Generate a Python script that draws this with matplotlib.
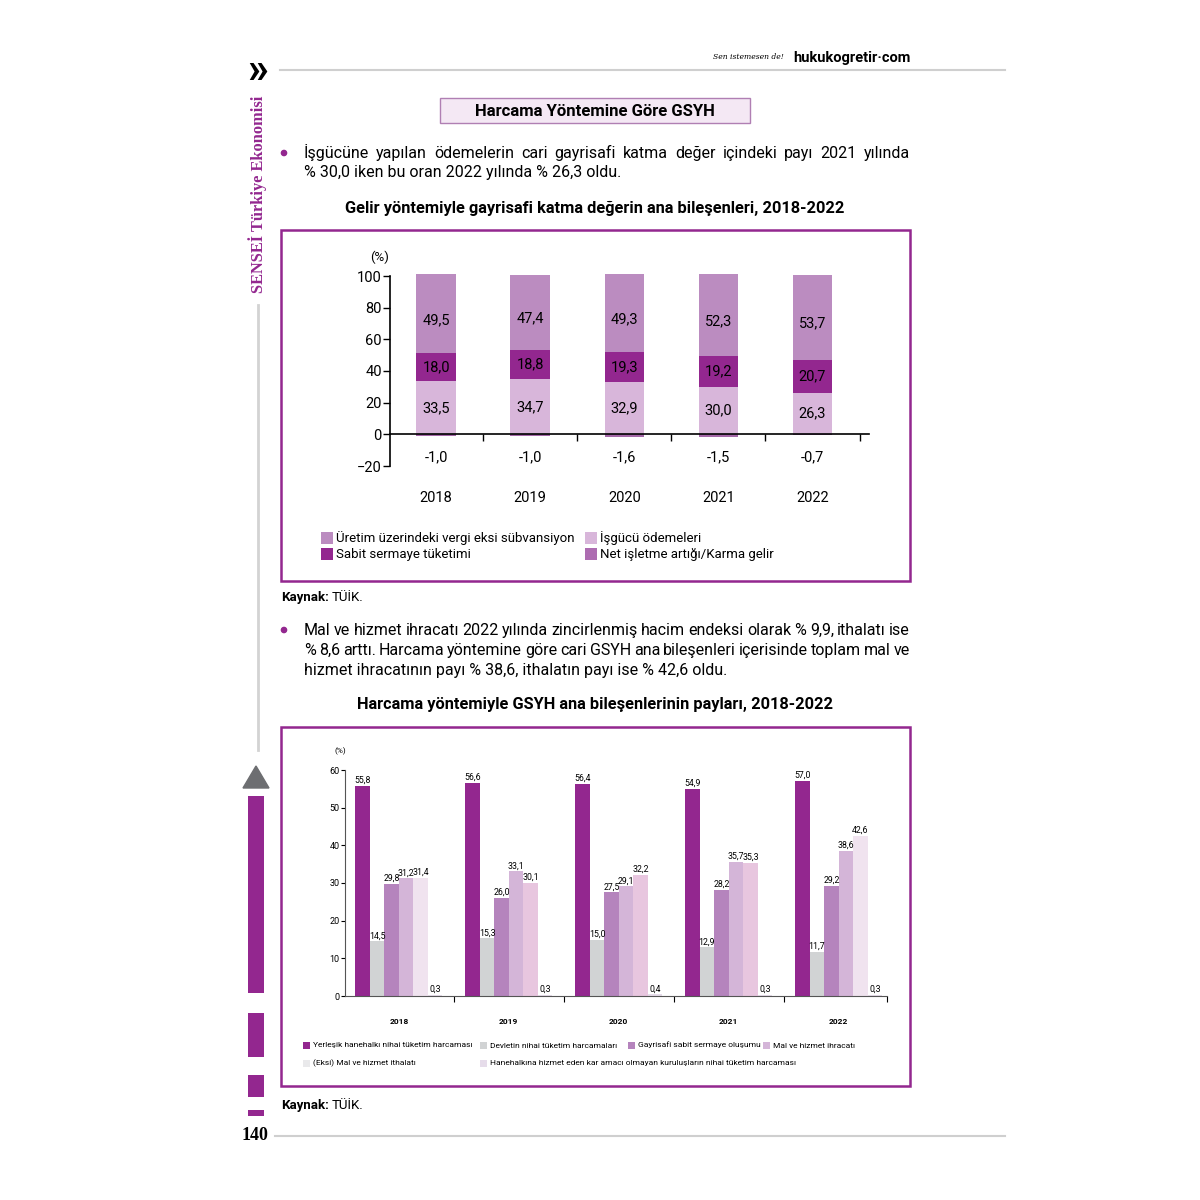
"""Recreate the 'Harcama Yöntemine Göre GSYH' book page with its two bar charts."""

import matplotlib

matplotlib.use("Agg")
import matplotlib.pyplot as plt  # noqa: E402
import numpy as np  # noqa: E402
from matplotlib.patches import Circle, Polygon, Rectangle  # noqa: E402

plt.rcParams["font.family"] = ["Roboto", "DejaVu Sans"]

# --- data: gelir yöntemi (chart 1) -------------------------------------------
YEARS = ["2018", "2019", "2020", "2021", "2022"]
ISGUCU = [33.5, 34.7, 32.9, 30.0, 26.3]
SABIT_SERMAYE = [18.0, 18.8, 19.3, 19.2, 20.7]
NET_ISLETME = [49.5, 47.4, 49.3, 52.3, 53.7]
URETIM_VERGI = [-1.0, -1.0, -1.6, -1.5, -0.7]

# --- data: harcama yöntemi (chart 2) -----------------------------------------
YERLESIK = [55.8, 56.6, 56.4, 54.9, 57.0]
DEVLET = [14.5, 15.3, 15.0, 12.9, 11.7]
GAYRISAFI = [29.8, 26.0, 27.5, 28.2, 29.2]
IHRACAT = [31.2, 33.1, 29.1, 35.7, 38.6]
ITHALAT = [31.4, 30.1, 32.2, 35.3, 42.6]
HANEHALKI = [0.3, 0.3, 0.4, 0.3, 0.3]

LEGEND1 = ["Üretim üzerindeki vergi eksi sübvansiyon", "Sabit sermaye tüketimi",
           "İşgücü ödemeleri", "Net işletme artığı/Karma gelir"]
LEGEND2 = ["Yerleşik hanehalkı nihai tüketim harcaması",
           "Devletin nihai tüketim harcamaları",
           "Gayrisafi sabit sermaye oluşumu", "Mal ve hizmet ihracatı",
           "(Eksi) Mal ve hizmet ithalatı",
           "Hanehalkına hizmet eden kar amacı olmayan kuruluşların nihai tüketim harcaması"]

PARA1 = ["İşgücüne yapılan ödemelerin cari gayrisafi katma değer içindeki payı 2021 yılında",
         "% 30,0 iken bu oran 2022 yılında % 26,3 oldu."]
PARA2 = ["Mal ve hizmet ihracatı 2022 yılında zincirlenmiş hacim endeksi olarak % 9,9, ithalatı ise",
         "% 8,6 arttı. Harcama yöntemine göre cari GSYH ana bileşenleri içerisinde toplam mal ve",
         "hizmet ihracatının payı % 38,6, ithalatın payı ise % 42,6 oldu."]

PURPLE = "#93278f"
W = H = 1200


def fx(x):
    return x / W


def fy(y):
    return 1 - y / H


def box(x0, y0, x1, y1):
    """Axes rectangle from page pixel coordinates (origin top-left)."""
    return [x0 / W, 1 - y1 / H, (x1 - x0) / W, (y1 - y0) / H]


def fmt(v):
    return f"{v:.1f}".replace(".", ",")


def hline(fig, x0, x1, y, color="#cfcfcf", lw=1.5):
    fig.add_artist(plt.Line2D([fx(x0), fx(x1)], [fy(y), fy(y)], color=color, lw=lw))


def rect(fig, x0, y0, x1, y1, **kw):
    fig.add_artist(Rectangle((fx(x0), fy(y1)), fx(x1) - fx(x0), fy(y0) - fy(y1),
                             transform=fig.transFigure, **kw))


def paragraph(fig, lines, x0, x1, y, step, size=11.5):
    """Justified paragraph: every line but the last is spread to full width.

    `y` is the visual middle of the first line; words sit on a shared baseline.
    """
    renderer = fig.canvas.get_renderer()
    for n, line in enumerate(lines):
        yy = fy(y + 5 + n * step)
        if n == len(lines) - 1:
            fig.text(fx(x0), yy, line, fontsize=size, va="baseline")
            continue
        words = line.split(" ")
        texts = [fig.text(0, yy, w, fontsize=size, va="baseline") for w in words]
        widths = [t.get_window_extent(renderer).width for t in texts]
        gap = (x1 - x0 - sum(widths)) / (len(words) - 1)
        pos = x0
        for t, wd in zip(texts, widths):
            t.set_x(fx(pos))
            pos += wd + gap


def kaynak(fig, x, y):
    renderer = fig.canvas.get_renderer()
    t = fig.text(fx(x), fy(y + 4), "Kaynak:", fontsize=9.5, fontweight="bold",
                 va="baseline")
    w = t.get_window_extent(renderer).width
    fig.text(fx(x + w + 3), fy(y + 4), "TÜİK.", fontsize=9.5, va="baseline")


fig = plt.figure(figsize=(12, 12), dpi=100)

# --- page furniture ----------------------------------------------------------
hline(fig, 280, 1005, 70)
fig.text(fx(258), fy(72), "»", fontsize=30, fontweight="bold", ha="center", va="center")
fig.text(fx(748), fy(57), "Sen istemesen de!", fontsize=5.5, style="italic",
         family="DejaVu Serif", ha="center", va="center")
fig.text(fx(911), fy(58), "hukukogretir·com", fontsize=10.5, fontweight="bold",
         ha="right", va="center")

fig.text(fx(258), fy(194), "SENSEİ Türkiye Ekonomisi", rotation=90, color=PURPLE,
         family="Liberation Serif", fontweight="bold", fontsize=11.8, ha="center", va="center")
fig.add_artist(plt.Line2D([fx(258), fx(258)], [fy(305), fy(750)], color="#d3d3d3", lw=2))
fig.add_artist(Polygon([(fx(243), fy(788)), (fx(269), fy(788)), (fx(256), fy(766))],
                       closed=True, transform=fig.transFigure, color="#6d6e71"))
for y0, y1 in [(796, 993), (1013, 1057), (1075, 1097), (1110, 1116)]:
    rect(fig, 248, y0, 264, y1, color=PURPLE, lw=0)
fig.text(fx(255), fy(1136), "140", family="Liberation Serif", fontweight="bold",
         fontsize=13, ha="center", va="center")
hline(fig, 275, 1005, 1136)

rect(fig, 440, 98, 750, 123, facecolor="#f4e8f4", edgecolor="#b07fb3", lw=1)
fig.text(fx(595), fy(111), "Harcama Yöntemine Göre GSYH", fontsize=12,
         fontweight="bold", ha="center", va="center")

for by in (153, 630):
    fig.add_artist(Circle((fx(284), fy(by)), 2.6 / W, transform=fig.transFigure,
                          color=PURPLE))
paragraph(fig, PARA1, 304, 910, 153, 19.5)
paragraph(fig, PARA2, 304, 910, 630, 20)

fig.text(fx(595), fy(208), "Gelir yöntemiyle gayrisafi katma değerin ana bileşenleri, 2018-2022",
         fontsize=11.8, fontweight="bold", ha="center", va="center")
fig.text(fx(595), fy(704), "Harcama yöntemiyle GSYH ana bileşenlerinin payları, 2018-2022",
         fontsize=11.8, fontweight="bold", ha="center", va="center")
rect(fig, 281, 230, 910, 581, facecolor="none", edgecolor=PURPLE, lw=1.8)
rect(fig, 281, 727, 910, 1086, facecolor="none", edgecolor=PURPLE, lw=1.8)
kaynak(fig, 281, 597)
kaynak(fig, 281, 1105)

# --- chart 1: stacked bars ---------------------------------------------------
c_isgucu, c_sabit, c_net, c_vergi = "#d8b6da", "#93278f", "#bb8cc0", "#a467a8"
ax1 = fig.add_axes(box(390, 276, 869, 466))
x = np.arange(len(YEARS))
bw = 0.42
ax1.bar(x, ISGUCU, bw, color=c_isgucu, clip_on=False)
ax1.bar(x, SABIT_SERMAYE, bw, bottom=ISGUCU, color=c_sabit, clip_on=False)
base = np.add(ISGUCU, SABIT_SERMAYE)
ax1.bar(x, NET_ISLETME, bw, bottom=base, color=c_net, clip_on=False)
ax1.bar(x, URETIM_VERGI, bw, color=c_vergi, clip_on=False)

for i in x:
    ax1.text(i, ISGUCU[i] / 2, fmt(ISGUCU[i]), ha="center", va="center", fontsize=10.5)
    ax1.text(i, ISGUCU[i] + SABIT_SERMAYE[i] / 2, fmt(SABIT_SERMAYE[i]),
             ha="center", va="center", fontsize=10.5)
    ax1.text(i, base[i] + NET_ISLETME[i] / 2 - 4, fmt(NET_ISLETME[i]),
             ha="center", va="center", fontsize=10.5)
    ax1.text(i, -14.5, fmt(URETIM_VERGI[i]), ha="center", va="center", fontsize=10.5)
    ax1.text(i, -40, YEARS[i], ha="center", va="center", fontsize=10.5)

ax1.set_xlim(-0.49, 4.6)
ax1.set_ylim(-20, 100)
ax1.set_yticks(range(-20, 101, 20))
ax1.set_xticks([0.5, 1.5, 2.5, 3.5, 4.5])
ax1.set_xticklabels([])
ax1.tick_params(axis="y", labelsize=10.5, length=5, width=1, pad=1)
ax1.tick_params(axis="x", length=5, width=1)
for side in ("top", "right"):
    ax1.spines[side].set_visible(False)
ax1.spines["bottom"].set_position(("data", 0))
for side in ("bottom", "left"):
    ax1.spines[side].set_linewidth(1.2)
ax1.patch.set_alpha(0)
fig.text(fx(380), fy(257), "(%)", fontsize=9.5, ha="center", va="center")

# chart 1 legend
leg1_colors = [c_net, c_sabit, c_isgucu, "#ad6cb1"]
leg1_pos = [(321, 538), (321, 554), (585, 538), (585, 554)]
for label, color, (lx, ly) in zip(LEGEND1, leg1_colors, leg1_pos):
    rect(fig, lx, ly - 6, lx + 12, ly + 6, color=color, lw=0)
    fig.text(fx(lx + 15), fy(ly + 4), label, fontsize=9.5, va="baseline")

# --- chart 2: grouped bars ---------------------------------------------------
series2 = [YERLESIK, DEVLET, GAYRISAFI, IHRACAT, ITHALAT, HANEHALKI]
colors2 = ["#93278f", "#d1d3d4", "#b584bd", "#d4b5d8",
           ["#f0e3ef", "#e8c6df", "#e8c6df", "#e8c6df", "#f0e3ef"], "#e6dcea"]
ax2 = fig.add_axes(box(345, 770, 887, 996))
bw2 = 0.132
for k, (vals, col) in enumerate(zip(series2, colors2)):
    xs = x + (k - 2.5) * bw2
    ax2.bar(xs, vals, bw2, color=col, lw=0)
    for xi, v in zip(xs, vals):
        ax2.text(xi, v + 0.3, fmt(v), ha="center", va="bottom", fontsize=6.3)
for i in x:
    ax2.text(i, -6.9, YEARS[i], ha="center", va="center", fontsize=6, fontweight="bold")

ax2.set_xlim(-0.49, 4.44)
ax2.set_ylim(0, 60)
ax2.set_yticks(range(0, 61, 10))
ax2.set_xticks([0.5, 1.5, 2.5, 3.5, 4.44])
ax2.set_xticklabels([])
ax2.tick_params(axis="y", labelsize=6.5, length=3, width=0.8, pad=1)
ax2.tick_params(axis="x", length=4, width=0.8)
for side in ("top", "right"):
    ax2.spines[side].set_visible(False)
for side in ("bottom", "left"):
    ax2.spines[side].set_linewidth(0.8)
    ax2.spines[side].set_color("#555555")
ax2.patch.set_alpha(0)
fig.text(fx(340), fy(751), "(%)", fontsize=6, ha="center", va="center")

# chart 2 legend
leg2_colors = ["#93278f", "#d1d3d4", "#b584bd", "#d4b5d8", "#e9e9eb", "#e6dcea"]
leg2_pos = [(303, 1045), (480, 1045), (628, 1045), (763, 1045), (303, 1063), (480, 1063)]
for label, color, (lx, ly) in zip(LEGEND2, leg2_colors, leg2_pos):
    rect(fig, lx, ly - 3.5, lx + 7, ly + 3.5, color=color, lw=0)
    fig.text(fx(lx + 10), fy(ly + 2.5), label, fontsize=6, va="baseline")

fig.savefig("out.png", dpi=100)
